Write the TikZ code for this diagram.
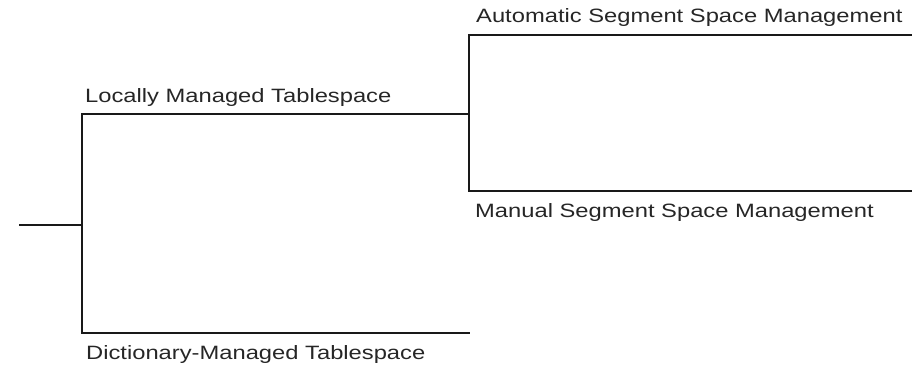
\documentclass[tikz,border=0pt]{standalone}
\usepackage{fontspec}
\setmainfont{Liberation Sans}
\newcommand{\widetext}[1]{\scalebox{1.23}[1]{#1}}
\begin{document}
\begin{tikzpicture}[x=1pt,y=-1pt,
  branch/.style={line width=2pt,line cap=rect,black!90},
  lbl/.style={anchor=base west,inner sep=0pt,font=\fontsize{19.3}{21}\selectfont,text=black!85}]
\useasboundingbox (0,0) rectangle (912,368);
% junction points of the tree
\coordinate (root) at (20,225);
\coordinate (fork) at (82,225);
\coordinate (lmtTop) at (82,114);
\coordinate (dmtBot) at (82,333);
\coordinate (lmtEnd) at (469,114);
\coordinate (dmtEnd) at (469,333);
\coordinate (assmTop) at (469,35);
\coordinate (mssmBot) at (469,191);
\coordinate (assmEnd) at (913,35);
\coordinate (mssmEnd) at (913,191);
% branch lines
\draw[branch] (root) -- (fork);
\draw[branch] (lmtTop) -- (dmtBot);
\draw[branch] (lmtTop) -- (lmtEnd);
\draw[branch] (dmtBot) -- (dmtEnd);
\draw[branch] (assmTop) -- (mssmBot);
\draw[branch] (assmTop) -- (assmEnd);
\draw[branch] (mssmBot) -- (mssmEnd);
% labels
\node[lbl] (lmt) at (85,102.5) {\widetext{Locally Managed Tablespace}};
\node[lbl] (dmt) at (86,359.3) {\widetext{Dictionary-Managed Tablespace}};
\node[lbl] (assm) at (476,22.7) {\widetext{Automatic Segment Space Management}};
\node[lbl] (mssm) at (475,217.5) {\widetext{Manual Segment Space Management}};
\end{tikzpicture}
\end{document}
